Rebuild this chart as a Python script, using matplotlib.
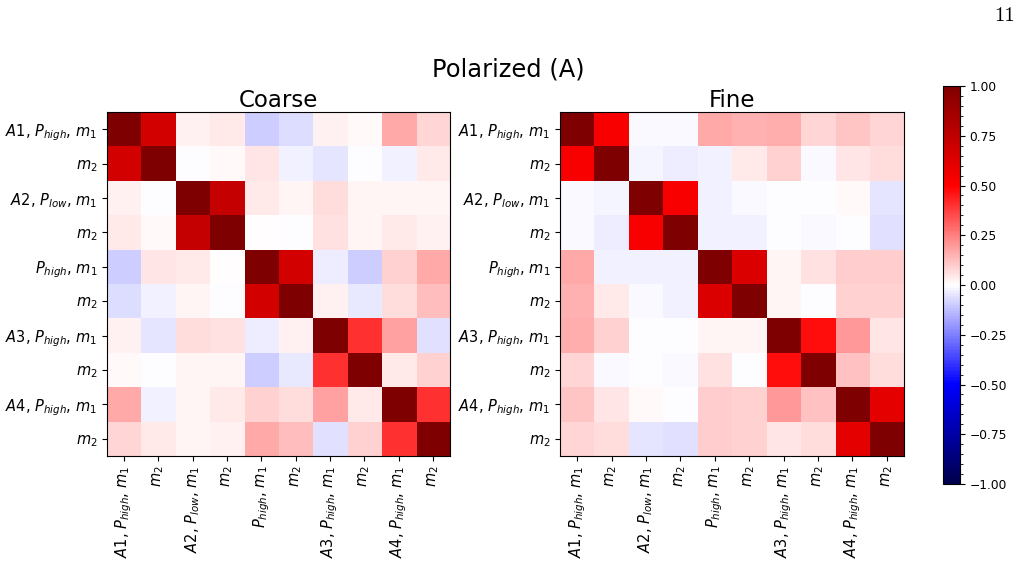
import matplotlib
matplotlib.use("Agg")
import matplotlib.pyplot as plt
import numpy as np

labels = [r'$A1$, $P_{high}$, $m_1$', r'$m_2$',
          r'$A2$, $P_{low}$, $m_1$', r'$m_2$',
          r'$P_{high}$, $m_1$', r'$m_2$',
          r'$A3$, $P_{high}$, $m_1$', r'$m_2$',
          r'$A4$, $P_{high}$, $m_1$', r'$m_2$']

coarse = [
    [1.00, 0.67, 0.03, 0.04, -0.10, -0.065, 0.03, 0.015, 0.17, 0.08],
    [0.67, 1.00, -0.005, 0.015, 0.05, -0.03, -0.05, -0.005, -0.03, 0.04],
    [0.03, -0.005, 1.00, 0.72, 0.04, 0.02, 0.07, 0.02, 0.02, 0.02],
    [0.04, 0.015, 0.72, 1.00, 0.00, -0.005, 0.06, 0.02, 0.04, 0.03],
    [-0.10, 0.05, 0.04, 0.00, 1.00, 0.67, -0.035, -0.10, 0.09, 0.17],
    [-0.065, -0.03, 0.02, -0.005, 0.67, 1.00, 0.025, -0.04, 0.065, 0.13],
    [0.03, -0.05, 0.07, 0.06, -0.035, 0.025, 1.00, 0.40, 0.18, -0.06],
    [0.015, -0.005, 0.02, 0.02, -0.10, -0.04, 0.40, 1.00, 0.04, 0.09],
    [0.17, -0.03, 0.02, 0.04, 0.09, 0.065, 0.18, 0.04, 1.00, 0.40],
    [0.08, 0.04, 0.02, 0.03, 0.17, 0.13, -0.06, 0.09, 0.40, 1.00],
]

fine = [
    [1.00, 0.52, -0.015, -0.015, 0.17, 0.15, 0.16, 0.08, 0.11, 0.08],
    [0.52, 1.00, -0.02, -0.035, -0.03, 0.04, 0.09, -0.015, 0.05, 0.07],
    [-0.015, -0.02, 1.00, 0.52, -0.03, -0.015, -0.005, -0.005, 0.01, -0.05],
    [-0.015, -0.035, 0.52, 1.00, -0.03, -0.03, -0.005, -0.01, -0.005, -0.06],
    [0.17, -0.03, -0.03, -0.03, 1.00, 0.64, 0.02, 0.06, 0.10, 0.10],
    [0.15, 0.04, -0.015, -0.03, 0.64, 1.00, 0.02, -0.005, 0.09, 0.09],
    [0.16, 0.09, -0.005, -0.005, 0.02, 0.02, 1.00, 0.47, 0.20, 0.05],
    [0.08, -0.015, -0.005, -0.01, 0.06, -0.005, 0.47, 1.00, 0.12, 0.07],
    [0.11, 0.05, 0.01, -0.005, 0.10, 0.09, 0.20, 0.12, 1.00, 0.60],
    [0.08, 0.07, -0.05, -0.06, 0.10, 0.09, 0.05, 0.07, 0.60, 1.00],
]

W, H = 1021, 563
fig = plt.figure(figsize=(W / 100, H / 100), dpi=100)

def fr(x0, y0, x1, y1):
    return [x0 / W, 1 - y1 / H, (x1 - x0) / W, (y1 - y0) / H]

ax1 = fig.add_axes(fr(107, 112, 450, 456))
ax2 = fig.add_axes(fr(560, 112, 904, 456))
cax = fig.add_axes(fr(943, 86, 960, 484))

im = None
for ax, data, title in [(ax1, coarse, "Coarse"), (ax2, fine, "Fine")]:
    im = ax.imshow(np.array(data), cmap="seismic", vmin=-1, vmax=1, aspect="auto")
    ax.set_xticks(range(len(labels)))
    ax.set_yticks(range(len(labels)))
    ax.set_xticklabels(labels, rotation=90, fontsize=10.5)
    ax.set_yticklabels(labels, fontsize=10.5)
    ax.set_title(title, fontsize=16.5, pad=3)

cb = fig.colorbar(im, cax=cax)
cb.ax.tick_params(labelsize=8.8)
cb.minorticks_on()

fig.text(508 / W, 1 - 70 / H, "Polarized (A)", ha="center", va="center", fontsize=17.4)
fig.text(1015 / W, 1 - 21 / H, "11", ha="right", va="baseline", fontsize=15,
         family="cmr10")

fig.savefig("out.png", dpi=100)
